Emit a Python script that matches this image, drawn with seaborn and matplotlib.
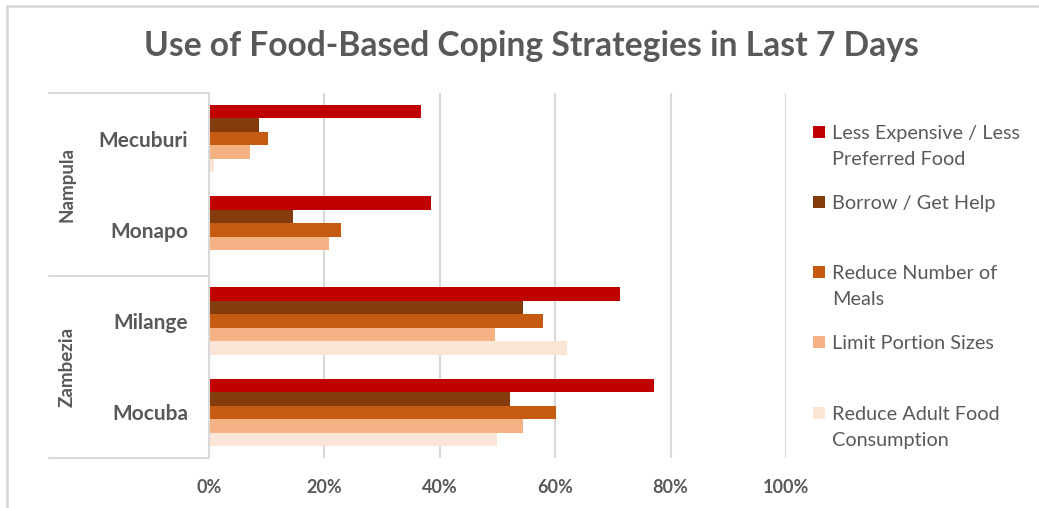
import matplotlib
matplotlib.use("Agg")
import matplotlib.pyplot as plt
from matplotlib.lines import Line2D
from matplotlib.patches import Rectangle
from matplotlib.ticker import PercentFormatter
import pandas as pd
import seaborn as sns

# Survey results: share of households using each coping strategy (%)
districts = ["Mecuburi", "Monapo", "Milange", "Mocuba"]
provinces = ["Nampula", "Zambezia"]
strategies = [
    "Less Expensive / Less\nPreferred Food",
    "Borrow / Get Help",
    "Reduce Number of\nMeals",
    "Limit Portion Sizes",
    "Reduce Adult Food\nConsumption",
]
less_expensive = [36.7, 38.5, 71.3, 77.2]
borrow_help = [8.7, 14.5, 54.4, 52.1]
reduce_meals = [10.2, 22.9, 57.9, 60.1]
limit_portions = [7.1, 20.8, 49.5, 54.4]
reduce_adult = [0.9, 0.0, 62.1, 49.9]
colors = ["#C00000", "#843C0C", "#C55A11", "#F4B183", "#FBE5D6"]
x_ticks = [0, 20, 40, 60, 80, 100]

series = [less_expensive, borrow_help, reduce_meals, limit_portions, reduce_adult]
df = pd.DataFrame(
    [(d, s, v[i]) for s, v in zip(strategies, series) for i, d in enumerate(districts)],
    columns=["district", "strategy", "value"],
)

sns.set_theme(style="white")
plt.rcParams["font.family"] = ["Lato", "DejaVu Sans"]
TXT = "#595959"
GRID = "#D9D9D9"

W, H = 1039, 508
fig = plt.figure(figsize=(W / 100, H / 100), dpi=100)


def fx(px):
    return px / W


def fy(py):
    return 1 - py / H


ax = fig.add_axes([fx(209), fy(458), fx(786) - fx(209), fy(93) - fy(458)])
sns.barplot(
    data=df, x="value", y="district", hue="strategy",
    order=districts, hue_order=strategies, palette=colors,
    orient="h", width=0.74, legend=False, ax=ax, linewidth=0, saturation=1,
)

ax.set_xlim(0, 100)
ax.set_ylim(3.5, -0.5)
ax.set_xticks(x_ticks)
ax.xaxis.set_major_formatter(PercentFormatter(decimals=0))
ax.grid(axis="x", color=GRID, linewidth=1.5)
ax.grid(axis="y", visible=False)
ax.set_axisbelow(True)
for side in ["top", "right", "bottom"]:
    ax.spines[side].set_visible(False)
ax.spines["left"].set_color(GRID)
ax.spines["left"].set_linewidth(1.5)
ax.set_xlabel("")
ax.set_ylabel("")
ax.tick_params(axis="x", length=0, pad=15, labelsize=13, labelcolor=TXT)
for t in ax.get_xticklabels():
    t.set_fontweight("bold")
ax.set_yticks(range(len(districts)))
ax.set_yticklabels(districts, fontsize=15, fontweight="bold", color=TXT)
ax.tick_params(axis="y", length=0, pad=15)

# two-level category axis: province groups with separators
for py in (93, 276, 458):
    fig.add_artist(Line2D([fx(49), fx(209)], [fy(py), fy(py)], color=GRID, lw=1.5))
for name, yc in zip(provinces, (184, 367)):
    fig.text(fx(67), fy(yc), name, rotation=90, ha="center", va="center",
             fontsize=13.5, fontweight="bold", color=TXT)

# title
fig.text(fx(531), fy(46), "Use of Food-Based Coping Strategies in Last 7 Days",
         ha="center", va="center", fontsize=24.2, fontweight="bold", color=TXT)

# legend: colour swatch plus one text line per row
legend_y = [132, 202, 272, 342, 413]
for label, c, py in zip(strategies, colors, legend_y):
    fig.add_artist(Rectangle((fx(813), fy(py + 6)), fx(12), fy(0) - fy(12),
                             transform=fig.transFigure, color=c, lw=0))
    for k, line in enumerate(label.split("\n")):
        fig.text(fx(832), fy(py + 7 + 26 * k), line, ha="left", va="baseline",
                 fontsize=14.3, color=TXT)

# chart frame
fig.add_artist(Line2D([fx(7), fx(7)], [fy(6), 0], color=GRID, lw=2))
fig.add_artist(Line2D([fx(7), 1], [fy(6), fy(6)], color=GRID, lw=2))

fig.savefig("out.png", dpi=100)
